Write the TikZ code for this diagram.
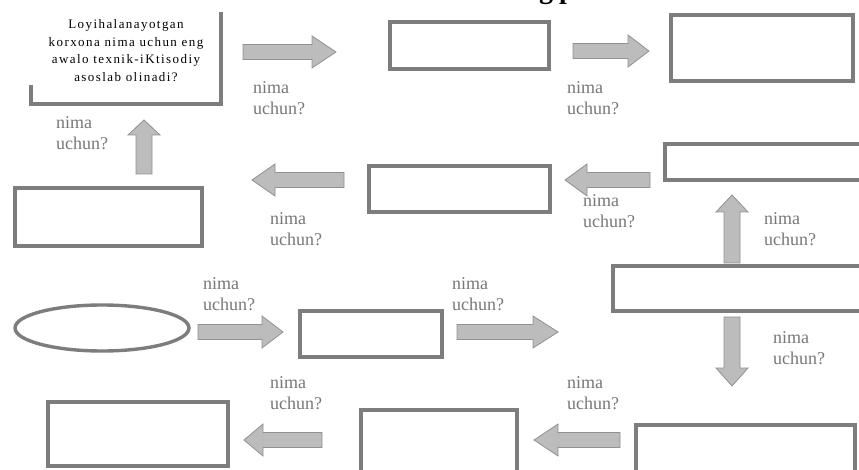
\documentclass[tikz,border=0pt]{standalone}
\usepackage{fontspec}
\setmainfont{Liberation Serif}
\usetikzlibrary{shapes.geometric}
\definecolor{edgegray}{RGB}{125,125,125}
\definecolor{arrowfill}{RGB}{188,188,188}
\definecolor{arrowedge}{RGB}{145,145,145}
\definecolor{labelgray}{RGB}{120,120,120}
\newcommand\hblockarrow[4]{% tail x, head base x, tip x, y
  \draw[blockarrow] (#1,#4-7.5) -- (#2,#4-7.5) -- (#2,#4-16) -- (#3,#4)
    -- (#2,#4+16) -- (#2,#4+7.5) -- (#1,#4+7.5) -- cycle;}
\newcommand\vblockarrow[4]{% x, tail y, head base y, tip y
  \draw[blockarrow] (#1-8,#2) -- (#1-8,#3) -- (#1-16,#3) -- (#1,#4)
    -- (#1+16,#3) -- (#1+8,#3) -- (#1+8,#2) -- cycle;}
\begin{document}
\begin{tikzpicture}[x=1pt,y=-1pt,
  box/.style={draw=edgegray, line width=3.6pt, rectangle, inner sep=0pt, fill=white},
  oval/.style={draw=edgegray, line width=3.4pt, ellipse, inner sep=0pt, fill=white},
  blockarrow/.style={fill=arrowfill, draw=arrowedge, line width=0.8pt, line join=miter},
  why/.style={text=labelgray, font=\fontsize{18}{21}\selectfont, align=left, anchor=north west, inner sep=0pt},
  qtext/.style={font=\fontsize{13}{17.5}\selectfont\addfontfeature{LetterSpace=11}, align=center, anchor=north, inner sep=0pt}
]
\useasboundingbox (0,0) rectangle (859,470);
\fill[white] (0,0) rectangle (859,470);

% title fragment (cut off at the top)
\node[font=\fontsize{28}{28}\selectfont\bfseries, anchor=base west, inner sep=0pt] (title) at (539,-1) {g\hspace{6pt}p};

% question box (partly covered by its white text panel)
\node[box, minimum width=190pt, minimum height=90pt] (q) at (126,59) {};
\node[fill=white, inner sep=0pt, minimum width=219pt, minimum height=85pt, anchor=north west] (qpanel) at (0,0) {};
\node[qtext] (qt) at (126,19.6) {Loyihalanayotgan\\korxona nima uchun eng\\awalo texnik-iKtisodiy\\asoslab olinadi?};

% empty boxes
\node[box, minimum width=159pt, minimum height=47pt] (b1) at (469.5,45.5) {};
\node[box, minimum width=182pt, minimum height=66pt] (b2) at (762,48) {};
\node[box, minimum width=213pt, minimum height=36pt] (b3) at (771.5,162) {};
\node[box, minimum width=181pt, minimum height=46pt] (b4) at (459.5,189) {};
\node[box, minimum width=187pt, minimum height=58pt] (b5) at (108.5,217) {};
\node[oval, minimum width=174pt, minimum height=46pt] (e) at (102,328) {};
\node[box, minimum width=142pt, minimum height=46pt] (b6) at (371,334) {};
\node[box, minimum width=265pt, minimum height=45pt] (b7) at (745.5,288.5) {};
\node[box, minimum width=180pt, minimum height=64pt] (b8) at (138,434) {};
\node[box, minimum width=156pt, minimum height=78pt] (b9) at (439,449) {};
\node[box, minimum width=219pt, minimum height=63pt] (b10) at (745.5,456.5) {};

% block arrows
\hblockarrow{243}{312}{336}{52}
\hblockarrow{573}{628}{649}{51}
\vblockarrow{144}{174}{135}{120}
\hblockarrow{344}{275}{252}{180}
\hblockarrow{650}{587}{565}{180}
\vblockarrow{732}{263}{212}{195}
\hblockarrow{198}{262}{283}{332}
\hblockarrow{457}{533}{558}{332}
\vblockarrow{732}{317}{368}{386}
\hblockarrow{322}{263}{244}{440}
\hblockarrow{620}{558}{534}{440}

% labels
\node[why] (w1) at (253,81.7) {nima\\uchun?};
\node[why] (w2) at (567,81) {nima\\uchun?};
\node[why] (w3) at (56,116.7) {nima\\uchun?};
\node[why] (w4) at (270,212.7) {nima\\uchun?};
\node[why] (w5) at (583,194.7) {nima\\uchun?};
\node[why] (w6) at (764,212.7) {nima\\uchun?};
\node[why] (w7) at (203,277.7) {nima\\uchun?};
\node[why] (w8) at (452,277.7) {nima\\uchun?};
\node[why] (w9) at (773,331.7) {nima\\uchun?};
\node[why] (w10) at (270,376.7) {nima\\uchun?};
\node[why] (w11) at (567,376.7) {nima\\uchun?};
\end{tikzpicture}
\end{document}
